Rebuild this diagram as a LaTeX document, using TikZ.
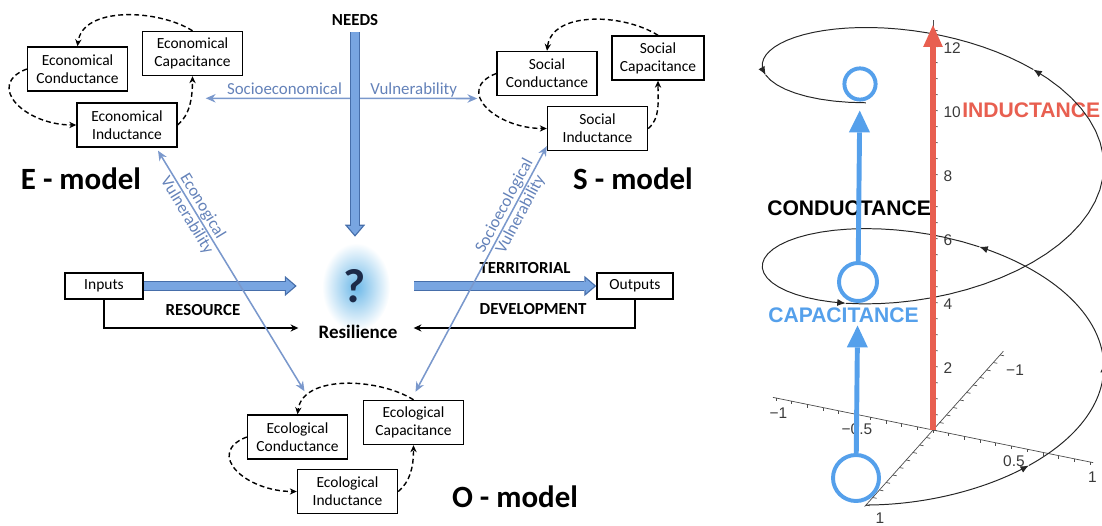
\documentclass[tikz,border=0pt]{standalone}
\usepackage{fontspec}
\setmainfont{Carlito}
\newfontfamily\plotfont{Liberation Sans}
\usetikzlibrary{arrows.meta}

\definecolor{thinblue}{HTML}{7A98CC}
\definecolor{labelblue}{HTML}{6482B9}
\definecolor{fatfill}{HTML}{78A5E1}
\definecolor{fatline}{HTML}{466EAA}
\definecolor{qnavy}{HTML}{1C2A48}
\definecolor{glow}{HTML}{6CB8E8}
\definecolor{ringblue}{HTML}{55A0EB}
\definecolor{indred}{HTML}{E85F50}
\definecolor{tickgray}{HTML}{3A3A3A}

\tikzset{
  block/.style={draw, line width=1pt, minimum width=2.5cm, minimum height=1.1cm, inner sep=2pt, align=center, font=\fontsize{11}{12.8}\selectfont},
  iobox/.style={draw, line width=1pt, minimum width=1.95cm, minimum height=0.65cm, inner sep=2pt, font=\fontsize{11}{13}\selectfont},
  loopline/.style={line width=1pt, dash pattern=on 3.5pt off 2.2pt, -{Stealth[length=5pt,width=4.5pt]}},
  flowline/.style={line width=0.9pt, -{Stealth[length=5.5pt,width=5pt]}},
  vulnline/.style={line width=1.1pt, thinblue, {Stealth[length=7pt,width=6pt]}-{Stealth[length=7pt,width=6pt]}},
  vulntext/.style={text=labelblue, font=\fontsize{12}{13}\selectfont, inner sep=1pt, align=center},
  fatedge/.style={line width=7pt, draw=fatline, -{Triangle[length=8.5pt,width=14.5pt,line width=0pt]}},
  fatbody/.style={line width=5.2pt, draw=fatfill, shorten >=1.4pt, -{Triangle[length=6.2pt,width=10.6pt,line width=0pt]}},
  boldcaps/.style={font=\bfseries\fontsize{12}{14}\selectfont, inner sep=0pt},
  modelname/.style={font=\bfseries\fontsize{22}{26}\selectfont, inner sep=0pt},
  ticklabel/.style={font=\plotfont\fontsize{11}{12}\selectfont, text=tickgray, inner sep=0pt},
  axisline/.style={line width=0.5pt, black!70},
  helixline/.style={line width=0.7pt, black!85},
  ring/.style={circle, draw=ringblue, line width=2.8pt, inner sep=0pt},
  ringarrow/.style={ringblue, line width=3.5pt, -{Triangle[length=15.5pt,width=15pt,line width=0pt]}},
  indarrow/.style={indred, line width=4.3pt, -{Triangle[length=15.5pt,width=14pt,line width=0pt]}},
  bigcaps/.style={font=\plotfont\bfseries\fontsize{15}{18}\selectfont, inner sep=0pt, anchor=west}
}

\begin{document}
\begin{tikzpicture}[x=0.025cm, y=0.025cm]
  \useasboundingbox (0,0) rectangle (1102,525);

  % three models
  \node[block] (Econd) at (77.5,456) {Economical\\Conductance};
  \node[block] (Ecap) at (192.5,471.5) {Economical\\Capacitance};
  \node[block] (Eind) at (127,400) {Economical\\Inductance};
  \node[block] (Scond) at (547,451.5) {Social\\Conductance};
  \node[block, minimum width=2.3cm] (Scap) at (658,467) {Social\\Capacitance};
  \node[block] (Sind) at (597.5,396.5) {Social\\Inductance};
  \node[block] (Ocond) at (297.5,88) {Ecological\\Conductance};
  \node[block] (Ocap) at (413.5,102.5) {Ecological\\Capacitance};
  \node[block] (Oind) at (347.5,33.5) {Ecological\\Inductance};
  \node[modelname] (Ename) at (81,346) {E - model};
  \node[modelname] (Sname) at (633,346) {S - model};
  \node[modelname] (Oname) at (515,28) {O - model};

  \foreach \m in {E,S,O} {
    \draw[loopline] (\m cap.north) .. controls +(-35,22) and +(5,40) .. (\m cond.north);
    \draw[loopline] (\m cond.west) .. controls +(-42,-16) and +(-52,0) .. (\m ind.west);
    \draw[loopline] (\m ind.east) .. controls +(12,10) and +(0,-22) .. (\m cap.south);
  }

  % centre
  \node[boldcaps] (needs) at (355,505) {NEEDS};
  \shade[inner color=glow, outer color=white] (356,238) ellipse (34 and 44);
  \node[font=\bfseries\fontsize{34}{36}\selectfont, text=qnavy, minimum width=1cm, minimum height=1.4cm, inner sep=0pt] (q) at (355,239) {?};
  \node[font=\bfseries\fontsize{13.5}{16}\selectfont, inner sep=0pt] (res) at (358,193) {Resilience};
  \node[iobox] (in) at (104,239) {Inputs};
  \node[iobox, minimum width=1.9cm] (out) at (635,239) {Outputs};
  \node[boldcaps] (resource) at (203,215) {RESOURCE};
  \node[boldcaps] (territorial) at (525,257) {TERRITORIAL};
  \node[boldcaps] (development) at (533,216) {DEVELOPMENT};

  \draw[vulnline] ([shift={(28,4)}]Eind.north east) -- ([shift={(-19,-25)}]Scond.west)
    node[vulntext, pos=0.29, anchor=base, yshift=3pt] (socioeco) {Socioeconomical}
    node[vulntext, pos=0.766, anchor=base, yshift=3pt] (vulnS) {Vulnerability};

  \foreach \s in {fatedge,fatbody} {
    \draw[\s] ([yshift=-0.165cm]needs.south) -- ([yshift=0.525cm]q.north);
    \draw[\s] (in.east) -- ([xshift=-0.95cm]q.west);
    \draw[\s] ([xshift=0.975cm]q.east) -- (out.west);
  }

  \draw[flowline] (in.south) |- ([shift={(-20,4)}]res.west);
  \draw[flowline] (out.south) |- ([shift={(16,4)}]res.east);

  \draw[vulnline] ([shift={(31,-3)}]Eind.south) -- ([shift={(7,23)}]Ocond.north)
    node[vulntext, pos=0.25, sloped] (econvuln) {Econogical\\Vulnerability};
  \draw[vulnline] ([shift={(0,5)}]Sind.south west) -- ([shift={(2,8)}]Ocap.north)
    node[vulntext, pos=0.26, sloped] (socvuln) {Socioecological\\Vulnerability};

  % helix plot
  \begin{scope}[shift={(933,95)}, x={(3.925cm,-0.8cm)}, y={(-1.675cm,-1.875cm)}, z={(0cm,0.8cm)}]
    \draw[axisline] (-1.02,0,0) -- (1.02,0,0);
    \draw[axisline] (0,1.02,0) -- (0,-1.05,0);
    \draw[axisline] (0,0,0) -- (0,0,12.8);
    \foreach \k in {-10,...,10} {
      \draw[axisline] ({\k/10},0,0) -- ++(0,0,-0.1);
      \draw[axisline] (0,{\k/10},0) -- ++(0.025,0,0);
    }
    \foreach \k in {1,...,25}
      \draw[axisline] (0,0,{\k/2}) -- ++(0.03,0,0);
    \foreach \h in {2,4,...,12}
      \node[ticklabel, anchor=west] (zl\h) at (0.065,0,\h) {\h};
    \foreach \u/\l [count=\i] in {-1/−1,-0.5/−0.5,0.5/0.5,1/1}
      \node[ticklabel, xshift=0.06cm, yshift=-0.37cm] (xl\i) at (\u,0,0) {\l};
    \node[ticklabel, xshift=0.35cm, yshift=-0.33cm] (yl1) at (0,1,0) {1};
    \node[ticklabel, xshift=0.375cm, yshift=-0.375cm] (yl2) at (0,-1,0) {−1};

    \coordinate (origin) at (0,0,0);
    \coordinate (ztip) at (0,0,12.65);
  \end{scope}

  \node[bigcaps] (condlabel) at (767,317) {CONDUCTANCE};
  \node[bigcaps, text=ringblue] (caplabel) at (768,210) {CAPACITANCE};
  \node[bigcaps, text=indred] (indlabel) at (962,415) {INDUCTANCE};

  \begin{scope}[shift={(933,95)}, x={(3.925cm,-0.8cm)}, y={(-1.675cm,-1.875cm)}, z={(0cm,0.8cm)}]
    \foreach \a/\b in {0/1,1/2,2/3.27,3.27/6.15,6.15/9.2,9.2/11.6}
      \draw[helixline, -{Latex[length=6pt,width=5pt]}] plot[domain=\a:\b, samples=30, variable=\t] ({sin(\t r)}, {cos(\t r)}, {\t});
    \draw[helixline] plot[domain=11.6:12.566, samples=10, variable=\t] ({sin(\t r)}, {cos(\t r)}, {\t});
  \end{scope}

  \draw[indarrow] (origin) -- (ztip);

  \node[ring, minimum size=1.15cm] (c0) at (856,47) {};
  \node[ring, minimum size=0.95cm] (c1) at (858,243) {};
  \node[ring, minimum size=0.78cm] (c2) at (860,441) {};
  \draw[ringarrow, shorten >=0.565cm] (c0) -- (c1);
  \draw[ringarrow, shorten >=0.225cm] (c1) -- (c2);
\end{tikzpicture}
\end{document}
